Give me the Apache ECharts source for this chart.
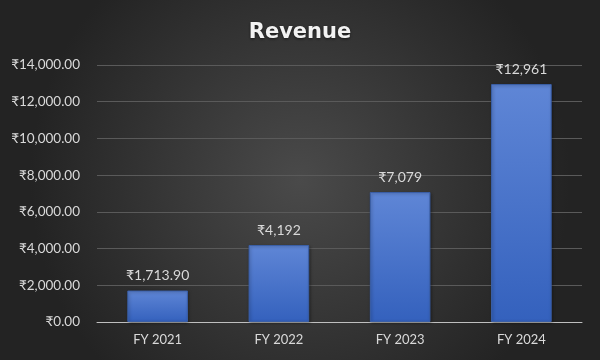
<!DOCTYPE html>
<html><head><meta charset="utf-8">
<script src="https://cdn.jsdelivr.net/npm/echarts@6/dist/echarts.min.js"></script>
<style>html,body{margin:0;padding:0;background:#333}#c{width:600px;height:360px}</style>
</head><body><div id="c"></div>
<script>
const categories = ['FY 2021', 'FY 2022', 'FY 2023', 'FY 2024'];
const revenue = [1713.90, 4192, 7079, 12961];
const valueLabels = ['₹1,713.90', '₹4,192', '₹7,079', '₹12,961'];
const yTicks = [0, 2000, 4000, 6000, 8000, 10000, 12000, 14000];

const font = 'Lato, "Open Sans", "Noto Sans", "DejaVu Sans", sans-serif';
const chart = echarts.init(document.getElementById('c'));
chart.setOption({
  animation: false,
  backgroundColor: {
    type: 'radial', x: 0.5, y: 0.5, r: 0.75,
    colorStops: [{offset: 0, color: '#4a4a4a'}, {offset: 1, color: '#232323'}]
  },
  title: {
    text: 'Revenue', left: 'center', top: 17,
    textStyle: {color: '#f2f2f2', fontSize: 21, fontWeight: 'bold', fontFamily: '"DejaVu Sans", sans-serif',
      textShadowColor: 'rgba(0,0,0,0.6)', textShadowBlur: 3, textShadowOffsetY: 1}
  },
  grid: {left: 97, right: 18, top: 65, bottom: 38, containLabel: false},
  xAxis: {
    type: 'category', data: categories,
    axisLine: {lineStyle: {color: '#bfbfbf', width: 1}},
    axisTick: {show: false},
    axisLabel: {color: '#d9d9d9', fontSize: 13, fontFamily: font, margin: 11}
  },
  yAxis: {
    type: 'value', min: yTicks[0], max: yTicks[yTicks.length - 1], interval: 2000,
    axisLine: {show: false}, axisTick: {show: false},
    splitLine: {lineStyle: {color: '#5a5a5a', width: 1}},
    axisLabel: {color: '#d9d9d9', fontSize: 13.5, fontFamily: font, margin: 17,
      formatter: v => '₹' + v.toLocaleString('en-US', {minimumFractionDigits: 2, maximumFractionDigits: 2})}
  },
  series: [{
    type: 'bar', data: revenue, barWidth: '50%',
    itemStyle: {
      color: {type: 'linear', x: 0, y: 0, x2: 0, y2: 1,
        colorStops: [{offset: 0, color: '#5f86d6'}, {offset: 1, color: '#3461bd'}]},
      borderColor: '#3a5fa8', borderWidth: 1,
      shadowColor: 'rgba(0,0,0,0.35)', shadowBlur: 3, shadowOffsetX: 1, shadowOffsetY: 1
    },
    label: {
      show: true, position: 'top', distance: 8, color: '#d9d9d9', fontSize: 14, fontFamily: font,
      formatter: p => valueLabels[p.dataIndex]
    }
  }]
});
</script></body></html>
